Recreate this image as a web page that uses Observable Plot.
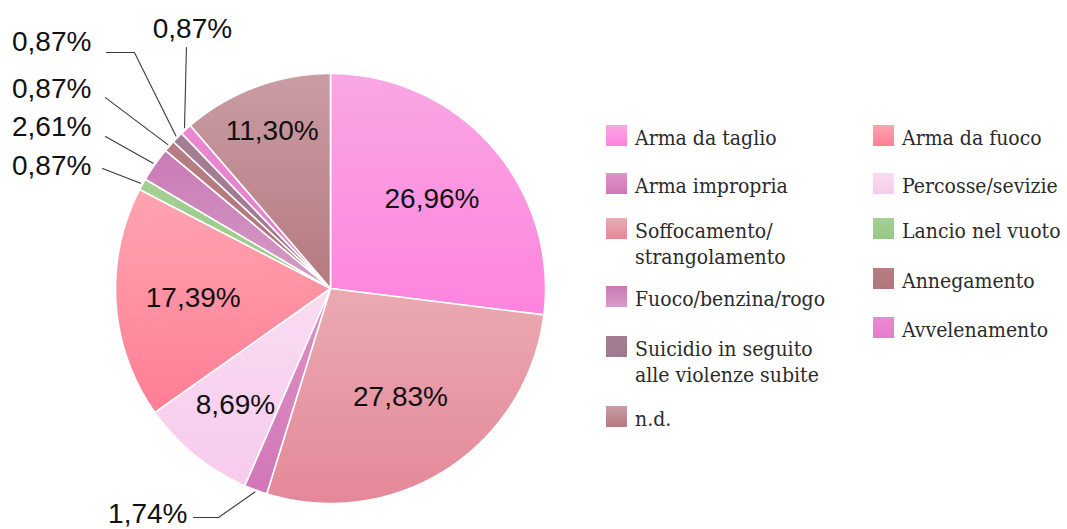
<!DOCTYPE html>
<html><head><meta charset="utf-8">
<script src="https://cdn.jsdelivr.net/npm/d3@7"></script>
<script src="https://cdn.jsdelivr.net/npm/@observablehq/plot@0.6"></script>
<style>
body{margin:0;background:#fff;}
#wrap{position:relative;width:1067px;height:529px;overflow:hidden;background:#fff;}
#wrap svg{position:absolute;left:0;top:0;}
.item{position:absolute;display:flex;align-items:flex-start;font-family:"DejaVu Serif Condensed","DejaVu Serif",serif;font-stretch:semi-condensed;font-size:21px;line-height:26px;color:#2b2b2b;white-space:nowrap;}
.sw{width:21px;height:21px;margin-right:8px;flex:none;}
.txt{margin-top:0px;}
</style></head><body><div id="wrap"></div><script>
// ---- data (clockwise from 12 o'clock) ----
const categories = ["Arma da taglio","Soffocamento/\nstrangolamento","Arma impropria","Percosse/sevizie","Arma da fuoco","Lancio nel vuoto","Fuoco/benzina/rogo","Annegamento","Suicidio in seguito\nalle violenze subite","Avvelenamento","n.d."];
const values = [26.96, 27.83, 1.74, 8.69, 17.39, 0.87, 2.61, 0.87, 0.87, 0.87, 11.30];
const valueLabels = ["26,96%","27,83%","1,74%","8,69%","17,39%","0,87%","2,61%","0,87%","0,87%","0,87%","11,30%"];
const colorTop = ["#f9a7e3","#eaaab2","#dc93c4","#f9dcf1","#ffa4b1","#a4d094","#c97ab5","#b67d83","#a57e94","#ea88d1","#ca9ca4"];
const colorBottom = ["#fe84df","#e48898","#d277b9","#f7cbed","#ff7e94","#97c886","#d69bc6","#b1767c","#9e7890","#e67dcc","#b57a80"];
// legend order
const legendCol1 = [0, 2, 1, 6, 8, 10];
const legendCol2 = [4, 3, 5, 7, 9];

// ---- layout config (not data) ----
const insideR = {0:0.63, 1:0.6, 3:0.7, 4:0.64, 10:0.78};
const callouts = { // leader path after slice edge, label anchor (data units)
  2: {path:[[-0.521,-1.065],[-0.637,-1.065]], text:[-0.665,-1.047], anchor:"end", line:"middle"},
  5: {path:[[-1.060,0.558]], text:[-1.112,0.530], anchor:"end", line:"bottom"},
  6: {path:[[-1.047,0.707]], text:[-1.112,0.707], anchor:"end", line:"bottom"},
  7: {path:[[-1.047,0.888]], text:[-1.112,0.888], anchor:"end", line:"bottom"},
  8: {path:[[-0.912,1.098],[-1.042,1.098]], text:[-1.112,1.105], anchor:"end", line:"bottom"},
  9: {path:[[-0.670,1.121]], text:[-0.642,1.167], anchor:"middle", line:"bottom"}
};
const legendTops1 = [125,173,218,286,336,406];
const legendTops2 = [125,173,218,268,317];

// ---- build pie geometry from values ----
const total = d3.sum(values);
let cum = 0;
const slices = values.map((v, i) => {
  const a0 = cum / total * 2 * Math.PI; cum += v;
  const a1 = cum / total * 2 * Math.PI;
  const n = Math.max(2, Math.ceil((a1 - a0) / (Math.PI / 360)));
  const pts = [{x:0, y:0}];
  for (let k = 0; k <= n; k++) { const a = a0 + (a1 - a0) * k / n; pts.push({x:Math.sin(a), y:Math.cos(a)}); }
  pts.push({x:0, y:0});
  return {i, a0, a1, mid:(a0 + a1) / 2, pts};
});

const defsMark = () => {
  const ns = "http://www.w3.org/2000/svg";
  const g = document.createElementNS(ns, "g");
  const defs = document.createElementNS(ns, "defs");
  values.forEach((v, i) => {
    const lg = document.createElementNS(ns, "linearGradient");
    lg.setAttribute("id", "g" + i); lg.setAttribute("x1", 0); lg.setAttribute("y1", 0); lg.setAttribute("x2", 0); lg.setAttribute("y2", 1);
    [[0, colorTop[i]], [1, colorBottom[i]]].forEach(([o, c]) => {
      const s = document.createElementNS(ns, "stop"); s.setAttribute("offset", o); s.setAttribute("stop-color", c); lg.appendChild(s);
    });
    defs.appendChild(lg);
  });
  g.appendChild(defs);
  return g;
};

const insideLabels = slices.filter(s => insideR[s.i] !== undefined).map(s => ({
  x: Math.sin(s.mid) * insideR[s.i], y: Math.cos(s.mid) * insideR[s.i], text: valueLabels[s.i]
}));
const leaderPts = [];
const outLabels = [];
for (const k of Object.keys(callouts)) {
  const i = +k, s = slices[i], c = callouts[i];
  leaderPts.push({z:i, x:Math.sin(s.mid) * 1.01, y:Math.cos(s.mid) * 1.01});
  c.path.forEach(p => leaderPts.push({z:i, x:p[0], y:p[1]}));
  outLabels.push({x:c.text[0], y:c.text[1], text:valueLabels[i], anchor:c.anchor, line:c.line});
}

const marks = [defsMark];
slices.forEach(s => marks.push(Plot.line(s.pts, {x:"x", y:"y", fill:`url(#g${s.i})`, stroke:"white", strokeWidth:1.6, strokeLinejoin:"round"})));
marks.push(Plot.line(leaderPts, {x:"x", y:"y", z:"z", stroke:"#3a3a3a", strokeWidth:1.1}));
marks.push(Plot.text(insideLabels, {x:"x", y:"y", text:"text", fontSize:28, fontFamily:"Liberation Sans", fill:"#111"}));
for (const anchor of ["end", "middle"]) for (const line of ["middle", "bottom"]) {
  const d = outLabels.filter(o => o.anchor === anchor && o.line === line);
  if (d.length) marks.push(Plot.text(d, {x:"x", y:"y", text:"text", textAnchor:anchor, lineAnchor:line, fontSize:28, fontFamily:"Liberation Sans", fill:"#111"}));
}

const chart = Plot.plot({
  width:1067, height:529,
  marginLeft:115, marginRight:522, marginTop:73, marginBottom:26,
  x:{domain:[-1, 1], axis:null}, y:{domain:[-1, 1], axis:null},
  style:{background:"transparent", overflow:"visible"},
  marks
});
const wrap = document.getElementById("wrap");
wrap.appendChild(chart);

function addItem(i, left, top) {
  const div = document.createElement("div");
  div.className = "item"; div.style.left = left + "px"; div.style.top = top + "px";
  const sw = document.createElement("div"); sw.className = "sw";
  sw.style.background = `linear-gradient(${colorTop[i]}, ${colorBottom[i]})`;
  const t = document.createElement("div"); t.className = "txt";
  t.innerHTML = categories[i].split("\n").join("<br>");
  div.appendChild(sw); div.appendChild(t); wrap.appendChild(div);
}
legendCol1.forEach((i, k) => addItem(i, 606, legendTops1[k]));
legendCol2.forEach((i, k) => addItem(i, 873, legendTops2[k]));
</script></body></html>
